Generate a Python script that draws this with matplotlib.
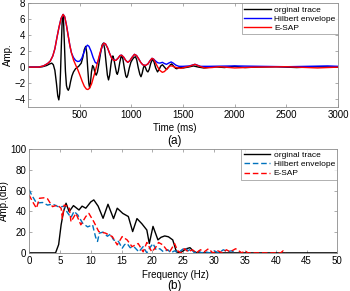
import matplotlib
matplotlib.use("Agg")
import matplotlib.pyplot as plt

plt.rcParams["font.family"] = ["Liberation Sans", "DejaVu Sans"]
plt.rcParams["font.size"] = 7

# ---- (a) time domain
t_trace = [0, 100, 140, 180, 210, 230, 245, 260, 275, 288, 298, 307, 315, 322, 330, 337,
           344, 352, 362, 372, 380, 390, 400, 412, 425, 440, 460, 490, 515, 530, 545,
           558, 568, 578, 588, 596, 604, 614, 625, 635, 648, 660, 672, 688, 705, 718,
           730, 742, 755, 768, 779, 790, 803, 813, 821, 831, 845, 856, 864, 874, 888,
           900, 908, 918, 933, 946, 955, 965, 980, 995, 1010, 1025, 1040, 1052, 1067,
           1082, 1093, 1104, 1116, 1125, 1135, 1148, 1160, 1172, 1188, 1205, 1218, 1235,
           1253, 1268, 1285, 1301, 1320, 1340, 1360, 1378, 1390, 1410, 1428, 1440, 1470,
           1500, 1550, 1600, 1650, 1700, 1800, 1900, 2000, 2100, 2200, 2400, 2600, 2800, 3000]
amp_trace = [0, 0, 0.05, 0.2, 0.4, 0.5, 0.3, -0.4, -2.0, -3.6, -4.1, -3.3, -0.5, 2.5, 5.6, 6.5,
             5.7, 3.0, -0.5, -2.3, -2.7, -2.9, -2.6, -1.8, -1.1, -0.6, -0.2, 0.1, 0.5, 1.2, 2.2,
             2.6, 1.8, -0.2, -2.0, -2.6, -2.0, -0.6, 0.2, 0.0, -0.7, -1.0, -0.6, 0.6, 2.0, 2.8,
             3.0, 2.3, 0.6, -1.0, -1.6, -1.0, 0.4, 1.2, 1.4, 1.0, 0.0, -0.7, -0.9, -0.5, 0.6,
             1.3, 1.4, 1.0, -0.2, -1.1, -1.3, -1.0, -0.1, 0.6, 0.95, 1.2, 1.3, 0.9, -0.1,
             -0.9, -1.2, -0.8, -0.1, 0.2, 0.0, -0.45, -0.6, -0.3, 0.5, 1.0, 0.7, -0.1,
             -0.6, -0.3, 0.15, 0.3, 0.0, -0.3, 0.0, 0.3, 0.4, 0.1, -0.15, -0.2, 0.0,
             -0.1, 0.0, 0.15, 0.0, -0.1, 0.05, -0.05, 0.1, -0.05, 0.0, 0.05, -0.05, 0.05, 0.0]

t_esap = [0, 100, 150, 190, 215, 240, 260, 280, 300, 320, 340, 355, 370, 388, 405, 420,
          440, 460, 484, 505, 525, 545, 565, 580, 595, 615, 635, 655, 675, 695, 715, 735,
          750, 770, 790, 810, 830, 850, 870, 890, 905, 925, 945, 965, 985, 1005, 1030,
          1050, 1070, 1090, 1110, 1135, 1160, 1180, 1200, 1215, 1235, 1255, 1275, 1300,
          1320, 1345, 1370, 1395, 1420, 1450, 1480, 1510, 1560, 1615, 1660, 1710, 1780,
          1850, 2000, 2200, 2500, 2800, 3000]
amp_esap = [0, 0, 0.15, 0.45, 0.75, 1.4, 2.3, 3.7, 5.0, 6.1, 6.6, 6.3, 5.4, 4.0, 2.7, 1.8,
            0.9, 0.3, -0.4, -1.1, -1.8, -2.4, -2.75, -2.8, -2.65, -2.1, -1.2, -0.3, 0.7, 1.7, 2.6, 3.0,
            2.9, 2.4, 1.7, 1.1, 0.85, 0.85, 1.1, 1.45, 1.5, 1.25, 0.85, 0.6, 0.8, 1.2, 1.6,
            1.45, 1.05, 0.6, 0.3, 0.2, 0.4, 0.8, 1.1, 1.0, 0.5, 0.0, -0.4, -0.65,
            -0.55, -0.2, 0.15, 0.15, 0.0, -0.1, -0.15, -0.05, 0.1, 0.35, 0.1, -0.1, -0.05,
            0.05, -0.1, 0.0, 0.05, -0.1, 0.0]

t_hilb = [0, 100, 150, 190, 215, 240, 260, 280, 300, 320, 340, 355, 370, 388, 405, 420,
          440, 460, 480, 500, 520, 540, 560, 575, 590, 610, 630, 650, 665, 680, 700, 720,
          735, 750, 770, 790, 810, 830, 850, 870, 890, 905, 925, 945, 965, 985, 1005,
          1030, 1050, 1070, 1090, 1110, 1135, 1160, 1180, 1200, 1215, 1235, 1255, 1275,
          1300, 1320, 1340, 1360, 1385, 1405, 1430, 1460, 1500, 1560, 1615, 1670, 1750,
          2000, 2500, 2900, 3000]
amp_hilb = [0, 0, 0.15, 0.45, 0.75, 1.4, 2.3, 3.7, 5.0, 6.1, 6.6, 6.3, 5.4, 4.0, 2.7, 1.8,
            1.2, 0.85, 0.7, 0.75, 1.1, 1.8, 2.5, 2.75, 2.6, 2.0, 1.2, 0.6, 0.45, 0.8, 1.8, 2.7,
            3.0, 2.9, 2.4, 1.7, 1.1, 0.85, 0.85, 1.1, 1.45, 1.5, 1.25, 0.85, 0.6, 0.8, 1.2,
            1.6, 1.45, 1.05, 0.6, 0.3, 0.2, 0.4, 0.8, 1.1, 1.0, 0.75, 0.55, 0.5,
            0.6, 0.45, 0.35, 0.5, 0.65, 0.5, 0.25, 0.1, 0.1, 0.15, 0.35, 0.1, 0.1,
            0.15, 0.05, 0.15, 0.1]

# ---- (b) spectra
f_trace = [0, 4.3, 4.8, 5.2, 5.6, 6.0, 6.5, 7.2, 8.1, 8.6, 9.2, 10.0, 10.5, 11.2, 12.0,
           12.8, 13.7, 14.3, 15.2, 16.1, 16.8, 17.5, 18.3, 19.1, 19.5, 20.1, 20.9, 21.4,
           22.0, 22.6, 23.3, 23.9, 24.5, 25.5, 26.1, 26.6, 27.2, 50]
db_trace = [0, 0, 8, 27, 40, 47.8, 39.7, 45.5, 41.3, 45, 43, 49, 51, 45, 33.3,
            46.8, 33, 43, 38, 35, 20.5, 33, 28, 22, 9, 25.5, 12.5, 15,
            16.3, 15.5, 12.5, 1, 0, 4, 5, 2, 0, 0]

f_hilb = [0, 0.4, 1.2, 2.2, 3.0, 3.8, 4.9, 5.7, 6.2, 6.8, 7.3, 7.9, 8.7, 9.5, 10.3, 10.8,
          11.1, 11.4, 12.0, 12.7, 13.2, 13.7, 14.5, 15.1, 15.5, 15.9, 16.4, 17.0, 17.8,
          18.5, 19.1, 19.6, 20.1, 20.6, 21.2, 21.8, 22.5, 23.0, 23.6, 24.2, 24.8, 25.3,
          25.8, 26.3, 26.8, 27.4, 28.0, 28.6, 29.3, 30.0, 30.8, 31.5, 32.2, 32.8, 33.5]
db_hilb = [61, 56, 48, 48.5, 46, 47, 44, 45, 39, 34, 40, 36.5, 28.5, 25, 27, 15,
           11, 19, 20, 16, 18, 12.5, 11, 4.5, 8, 9, 5, 6, 1,
           6, 0, 5, 9, 3, 4, 1, 3, 0, 2, 0, 3, 5,
           2, 4, 0, 2, 0, 1, 0, 2, 0, 3, 1, 2, 0]

f_esap = [0, 0.6, 1.2, 1.7, 2.4, 3.0, 3.8, 4.6, 5.2, 5.4, 5.7, 6.5, 6.8, 7.6, 8.4, 9.2,
          9.7, 10.5, 11.3, 12.4, 13.5, 14.3, 15.1, 15.9, 16.7, 17.7, 18.5, 19.1, 19.9,
          20.5, 21.0, 21.7, 22.3, 22.8, 23.6, 24.1, 24.6, 25.2, 25.8, 26.5, 27.1, 27.8,
          28.4, 29.1, 29.8, 30.6, 31.4, 32.0, 32.6, 33.5, 34.5, 35.0, 35.5, 40.8, 41.2, 41.6]
db_esap = [55.8, 49, 43, 52.6, 53, 52, 44.5, 46, 43, 33, 46, 44.5, 30, 38, 27, 35,
           38, 30, 20.5, 19, 15.7, 7.7, 15.7, 12.5, 6, 9, 1, 10, 1,
           5, 10, 7.7, 3, 1, 9, 2, 0, 4, 1, 3, 0, 3,
           1, 4, 0, 2, 0, 3, 1, 4, 0, 2, 0, 0, 2, 0]

time_ticks = [500, 1000, 1500, 2000, 2500, 3000]
amp_ticks = [-4, -2, 0, 2, 4, 6, 8]
freq_ticks = list(range(0, 55, 5))
db_ticks = [0, 20, 40, 60, 80, 100]

fig = plt.figure(figsize=(3.5, 2.91), dpi=100)
ax1 = fig.add_axes([0.08, 0.632, 0.886, 0.357])
ax2 = fig.add_axes([0.083, 0.131, 0.881, 0.357])

ax1.plot(t_trace, amp_trace, color="black", lw=1.0, label="orginal trace")
ax1.plot(t_hilb, amp_hilb, color="blue", lw=1.0, label="Hilbert envelope")
ax1.plot(t_esap, amp_esap, color="red", lw=1.0, label="E-SAP")
ax1.set_xlim(0, 3000)
ax1.set_ylim(-5, 8)
ax1.set_xticks(time_ticks)
ax1.set_yticks(amp_ticks)
ax1.set_ylabel("Amp.", labelpad=1)

dash = (0, (4, 2))
ax2.plot(f_trace, db_trace, color="black", lw=1.0, label="orginal trace")
ax2.plot(f_hilb, db_hilb, color="#0072BD", lw=1.0, ls=dash, label="Hilbert envelope")
ax2.plot(f_esap, db_esap, color="red", lw=1.0, ls=dash, label="E-SAP")
ax2.set_xlim(0, 50)
ax2.set_ylim(0, 100)
ax2.set_xticks(freq_ticks)
ax2.set_yticks(db_ticks)
ax2.set_ylabel("Amp.(dB)", labelpad=1)

for ax in (ax1, ax2):
    for s in ax.spines.values():
        s.set_color("#8c8c8c")
        s.set_linewidth(0.6)
    ax.tick_params(direction="in", top=True, right=True, length=2.5, width=0.5,
                   color="#8c8c8c", labelsize=7, pad=2)
    leg = ax.legend(loc="upper right", fontsize=6, frameon=True, fancybox=False,
                    borderaxespad=0, handlelength=3.2, handletextpad=0.4,
                    labelspacing=0.15, borderpad=0.3)
    leg.get_frame().set_edgecolor("#8c8c8c")
    leg.get_frame().set_linewidth(0.6)

fig.text(0.5, 1 - 128 / 291, "Time (ms)", ha="center", va="center", fontsize=7)
fig.text(0.5, 1 - 141 / 291, "(a)", ha="center", va="center", fontsize=8.5)
fig.text(0.5, 1 - 275 / 291, "Frequency (Hz)", ha="center", va="center", fontsize=7)
fig.text(0.5, 1 - 286 / 291, "(b)", ha="center", va="center", fontsize=8.5)

fig.savefig("out.png", dpi=100)
